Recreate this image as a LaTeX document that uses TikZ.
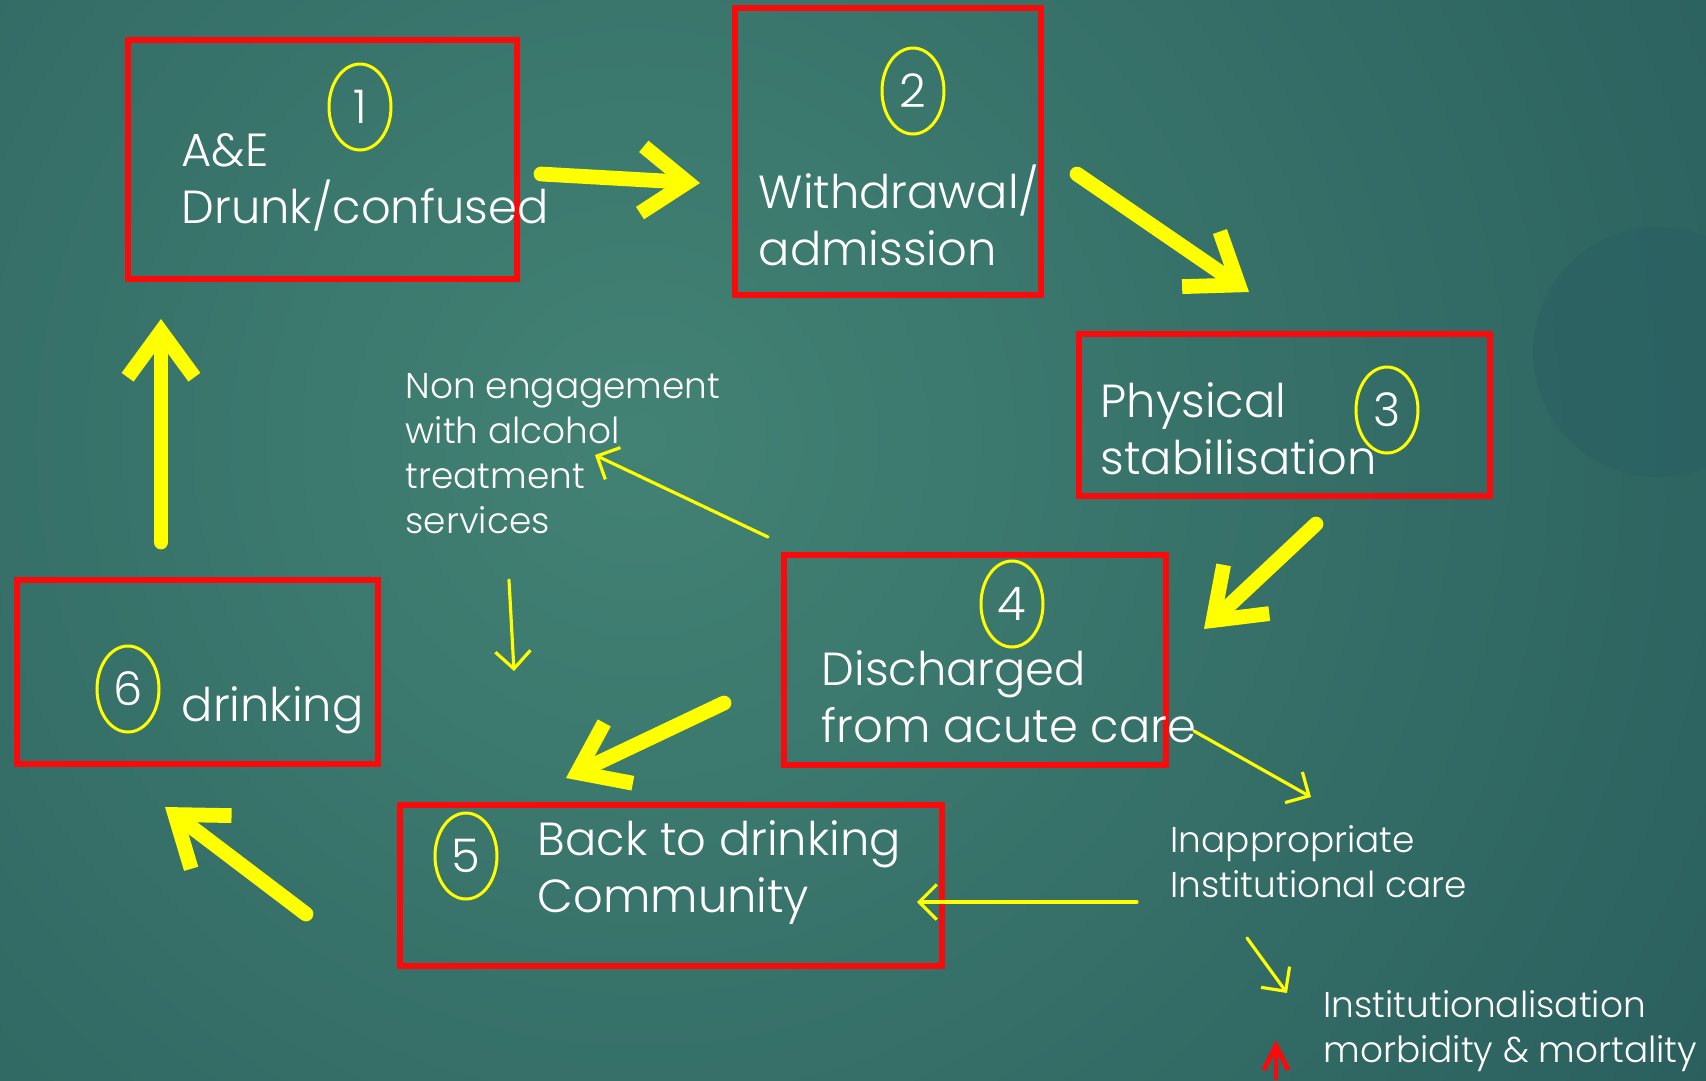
\documentclass[tikz,border=0pt]{standalone}
\usepackage{fontspec}
\setmainfont{Poppins}[UprightFont={* Light}]
\usepackage{tikz}
\usetikzlibrary{arrows.meta}
\usetikzlibrary{shapes.geometric}
\definecolor{bgdark}{RGB}{28, 74, 80}
\definecolor{bglight}{RGB}{66, 130, 116}
\definecolor{bgring}{RGB}{38, 92, 98}
\definecolor{boxred}{RGB}{250, 10, 10}
\definecolor{markyellow}{RGB}{255, 255, 0}
\newcommand\stagefont{\fontsize{13.2}{16.2}\selectfont}
\newcommand\notefont{\fontsize{10.2}{12.8}\selectfont}

\begin{document}
\begin{tikzpicture}[x=0.1mm,y=-0.1mm,
  stage/.style={draw=boxred,line width=0.55mm,inner sep=0pt,outer sep=0pt},
  num/.style={ellipse,draw=markyellow,line width=0.3mm,minimum width=6.2mm,minimum height=8.6mm,inner sep=0pt,text=white,font=\stagefont},
  stagetext/.style={text=white,font=\stagefont,align=left,inner sep=0pt,anchor=base west},
  note/.style={text=white,font=\notefont,align=left,inner sep=0pt,anchor=base west},
  flow/.style={color=markyellow,line width=4.2pt,line cap=round,line join=round,-{Straight Barb[length=13pt,width=19pt]}},
  link/.style={color=markyellow,line width=0.9pt,line cap=round,-{Straight Barb[length=5pt,width=10pt]}},
  back/.style={color=boxred,line width=1.4pt,-{Straight Barb[length=7pt,width=7pt]}}]
  \useasboundingbox (0,0) rectangle (1706,1080);
  \fill[bgdark] (0,0) rectangle (1706,1080);
  \begin{scope}
    \clip (0,0) rectangle (1706,1080);
    \shade[inner color=bglight,outer color=bgdark] (640,440) circle (2000);
    \fill[bgring,opacity=0.35] (1658,352) circle (125);
  \end{scope}

  \node[stage,minimum width=38.9mm,minimum height=23.9mm] (ae) at (322.5,159.5) {};
  \node[stage,minimum width=30.6mm,minimum height=28.7mm] (withdrawal) at (888,151.5) {};
  \node[stage,minimum width=41.1mm,minimum height=16.2mm] (physical) at (1284.5,415) {};
  \node[stage,minimum width=38.2mm,minimum height=21.0mm] (discharged) at (975,660) {};
  \node[stage,minimum width=54.2mm,minimum height=16.1mm] (community) at (671,885.5) {};
  \node[stage,minimum width=36.1mm,minimum height=18.4mm] (drinking) at (197.5,672) {};

  \node[num] (n1) at (360,107) {1};
  \node[num] (n2) at (913,91) {2};
  \node[num] (n3) at (1387,410) {3};
  \node[num] (n4) at (1012,604) {4};
  \node[num] (n5) at (466,856) {5};
  \node[num] (n6) at (128,689) {6};

  \node[stagetext] (aetext) at (181,223) {A\&E\\Drunk/confused};
  \node[stagetext] (withdrawaltext) at (758,265) {Withdrawal/\\admission};
  \node[stagetext] (physicaltext) at (1100,474) {Physical\\stabilisation};
  \node[stagetext] (dischargedtext) at (821,742) {Discharged\\from acute care};
  \node[stagetext] (communitytext) at (537,912) {Back to drinking\\Community};
  \node[stagetext] (drinkingtext) at (181,721) {drinking};

  \node[note] (nonengage) at (405,533) {Non engagement\\with alcohol\\treatment\\services};
  \node[note] (inappropriate) at (1170,897) {Inappropriate\\Institutional care};
  \node[note] (institution) at (1323,1062) {Institutionalisation\\morbidity \& mortality};

  \coordinate (a12s) at (541,174);  \coordinate (a12e) at (700,183);
  \coordinate (a23s) at (1077,174); \coordinate (a23e) at (1249,292);
  \coordinate (a34s) at (1316,524); \coordinate (a34e) at (1204,629);
  \coordinate (a45s) at (724,703);  \coordinate (a45e) at (566,778);
  \coordinate (a56s) at (306,914);  \coordinate (a56e) at (165,807);
  \coordinate (a61s) at (161,542);  \coordinate (a61e) at (161,319);
  \path[flow]
    (a12s) edge (a12e)
    (a23s) edge (a23e)
    (a34s) edge (a34e)
    (a45s) edge (a45e)
    (a56s) edge (a56e)
    (a61s) edge (a61e);

  \coordinate (l1s) at (768,537);  \coordinate (l1e) at (595,455);
  \coordinate (l2s) at (509,580);  \coordinate (l2e) at (514,671);
  \coordinate (l3s) at (1194,731); \coordinate (l3e) at (1311,797);
  \coordinate (l4s) at (1137,902); \coordinate (l4e) at (917,902);
  \coordinate (l5s) at (1247,938); \coordinate (l5e) at (1287,993);
  \path[link]
    (l1s) edge (l1e)
    (l2s) edge (l2e)
    (l3s) edge (l3e)
    (l4s) edge (l4e)
    (l5s) edge (l5e);

  \coordinate (r1s) at (1276,1080); \coordinate (r1e) at (1276,1040);
  \draw[back] (r1s) -- (r1e);
\end{tikzpicture}
\end{document}
